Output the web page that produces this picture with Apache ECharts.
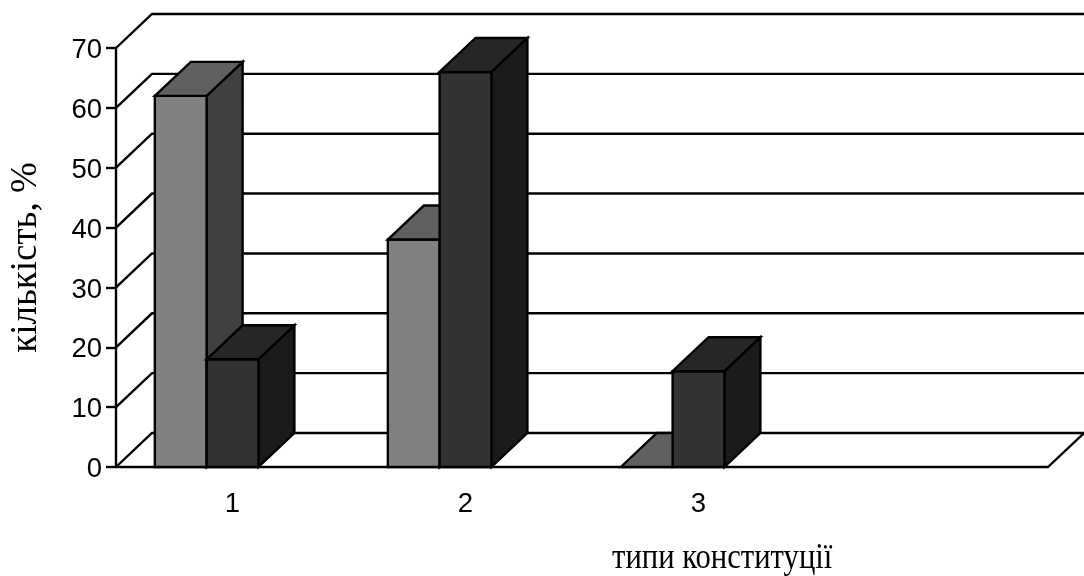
<!DOCTYPE html>
<html>
<head>
<meta charset="utf-8">
<script src="https://cdn.jsdelivr.net/npm/echarts@6/dist/echarts.min.js"></script>
<style>html,body{margin:0;padding:0;background:#fff}#chart{width:1084px;height:576px}</style>
</head>
<body>
<div id="chart"></div>
<script>
// Constitution types and their share, %
const categories = ['1', '2', '3', ''];
const lightValues = [62, 38, 0, null];
const darkValues = [18, 66, 16, null];
const wallLevels = [0, 10, 20, 30, 40, 50, 60, 70];

// Oblique projection used for the pseudo-3D look
const DEPTH_X = 36;
const DEPTH_Y = 34;
const STROKE = 2.4;
const LINE = { stroke: '#000', lineWidth: STROKE, fill: null };
const LIGHT = { front: '#808080', top: '#606060', side: '#404040' };
const DARK = { front: '#333333', top: '#262626', side: '#1a1a1a' };

function poly(points, fill) {
  return {
    type: 'polygon',
    shape: { points },
    style: { fill, stroke: '#000', lineWidth: STROKE, lineJoin: 'miter' }
  };
}

// Draws one bar as front, top and side faces; a zero value leaves just the top face
function barRenderer(slot, colors) {
  return function (params, api) {
    const value = api.value(1);
    if (value === null || isNaN(value)) return null;
    const idx = api.value(0);
    const top = api.coord([idx, value]);
    const base = api.coord([idx, 0]);
    const band = api.size([1, 0])[0];
    const w = band / 4.5;
    const x0 = top[0] + (slot - 1.5) * w;
    const x1 = x0 + w;
    const children = [];
    if (value > 0) {
      children.push(poly([[x1, top[1]], [x1 + DEPTH_X, top[1] - DEPTH_Y], [x1 + DEPTH_X, base[1] - DEPTH_Y], [x1, base[1]]], colors.side));
      children.push(poly([[x0, top[1]], [x1, top[1]], [x1, base[1]], [x0, base[1]]], colors.front));
    }
    children.push(poly([[x0, top[1]], [x0 + DEPTH_X, top[1] - DEPTH_Y], [x1 + DEPTH_X, top[1] - DEPTH_Y], [x1, top[1]]], colors.top));
    return { type: 'group', children };
  };
}

// Receding gridlines on the side and back walls, plus the right edge of the floor
function wallRenderer(params, api) {
  const level = api.value(0);
  const y = api.coord([0, level])[1];
  const left = params.coordSys.x;
  const right = left + params.coordSys.width;
  const children = [{
    type: 'polyline',
    shape: { points: [[left, y], [left + DEPTH_X, y - DEPTH_Y], [right + DEPTH_X, y - DEPTH_Y]] },
    style: LINE
  }];
  if (level === 0) {
    children.push({
      type: 'line',
      shape: { x1: right, y1: y, x2: right + DEPTH_X, y2: y - DEPTH_Y },
      style: LINE
    });
  }
  return { type: 'group', children };
}

const chart = echarts.init(document.getElementById('chart'), null, { renderer: 'canvas' });
chart.setOption({
  animation: false,
  backgroundColor: '#fff',
  graphic: [{
    type: 'text',
    x: 612,
    y: 576,
    scaleX: 0.875,
    style: {
      text: 'типи конституції',
      font: '35px "Liberation Serif"',
      fill: '#000',
      verticalAlign: 'bottom'
    }
  }],
  grid: { left: 115.5, right: 36, top: 48, bottom: 109, containLabel: false },
  xAxis: {
    type: 'category',
    data: categories,
    axisLine: { onZero: false, lineStyle: { color: '#000', width: STROKE } },
    axisTick: { show: false },
    axisLabel: { margin: 23, fontFamily: '"Liberation Sans"', fontSize: 27.5, color: '#000' }
  },
  yAxis: {
    type: 'value',
    min: 0,
    max: 70,
    interval: 10,
    name: 'кількість, %',
    nameLocation: 'middle',
    nameGap: 71,
    nameTextStyle: { fontFamily: '"Liberation Serif"', fontSize: 37, color: '#000' },
    axisLine: { show: true, lineStyle: { color: '#000', width: STROKE } },
    axisTick: { show: true, length: 10, lineStyle: { color: '#000', width: STROKE } },
    axisLabel: {
      margin: 14,
      formatter: '{n|{value}}',
      rich: {
        n: { padding: [5, 0, 0, 0], fontFamily: '"Liberation Sans"', fontSize: 27.5, color: '#000' }
      }
    },
    splitLine: { show: false }
  },
  series: [
    {
      type: 'custom',
      z: 1,
      clip: false,
      silent: true,
      renderItem: wallRenderer,
      encode: { y: 0 },
      data: wallLevels.map(v => [v])
    },
    {
      type: 'custom',
      z: 2,
      clip: false,
      renderItem: barRenderer(0, LIGHT),
      encode: { x: 0, y: 1 },
      data: lightValues.map((v, i) => [i, v])
    },
    {
      type: 'custom',
      z: 3,
      clip: false,
      renderItem: barRenderer(1, DARK),
      encode: { x: 0, y: 1 },
      data: darkValues.map((v, i) => [i, v])
    }
  ]
});
</script>
</body>
</html>
